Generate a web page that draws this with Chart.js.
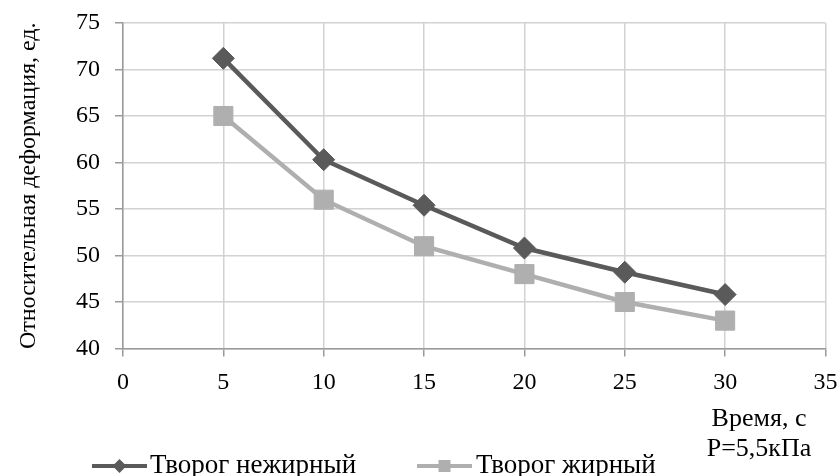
<!DOCTYPE html>
<html lang="ru">
<head>
  <meta charset="UTF-8" />
  <title>Относительная деформация творога</title>
  <script src="https://cdn.jsdelivr.net/npm/chart.js"></script>
  <style>
    body {
      margin: 0;
      background: #ffffff;
    }
    canvas {
      display: block;
    }
  </style>
</head>
<body>
  <canvas id="deformChart" width="840" height="476"></canvas>

  <script>
    // values
    const timeSec = [5, 10, 15, 20, 25, 30];
    const lowFat = [71.2, 60.3, 55.4, 50.8, 48.2, 45.8];
    const fullFat = [65.0, 56.0, 51.0, 48.0, 45.0, 43.0];
    const seriesNames = ['Творог нежирный', 'Творог жирный'];
    const yTitle = 'Относительная деформация, ед.';
    const xTitleLines = ['Время, с', 'Р=5,5кПа'];

    const darkGrey = '#5a5a5a';
    const lightGrey = '#afafaf';
    const serif = "'Liberation Serif', 'Times New Roman', serif";

    const toPoints = vals => vals.map((v, i) => ({ x: timeSec[i], y: v }));

    // x title + legend drawn under the plot (line with marker, like Excel)
    const extrasPlugin = {
      id: 'extras',
      afterDraw(chart) {
        const ctx = chart.ctx;
        ctx.save();
        ctx.fillStyle = '#000';
        ctx.font = '26px ' + serif;
        ctx.textAlign = 'center';
        ctx.textBaseline = 'middle';
        ctx.fillText(xTitleLines[0], 759, 419);
        ctx.fillText(xTitleLines[1], 759, 449);

        const ly = 466;
        const items = [
          { x0: 92, x1: 147, color: darkGrey, shape: 'diamond', tx: 150 },
          { x0: 417, x1: 472, color: lightGrey, shape: 'square', tx: 476 }
        ];
        ctx.font = '27px ' + serif;
        items.forEach((it, i) => {
          ctx.strokeStyle = it.color;
          ctx.fillStyle = it.color;
          ctx.lineWidth = 4;
          ctx.beginPath();
          ctx.moveTo(it.x0, ly);
          ctx.lineTo(it.x1, ly);
          ctx.stroke();
          const cx = (it.x0 + it.x1) / 2;
          ctx.beginPath();
          if (it.shape === 'diamond') {
            ctx.moveTo(cx, ly - 7);
            ctx.lineTo(cx + 7, ly);
            ctx.lineTo(cx, ly + 7);
            ctx.lineTo(cx - 7, ly);
            ctx.closePath();
          } else {
            ctx.rect(cx - 6, ly - 6, 12, 12);
          }
          ctx.fill();
          ctx.fillStyle = '#000';
          ctx.textAlign = 'left';
          ctx.textBaseline = 'alphabetic';
          ctx.fillText(seriesNames[i], it.tx, 473);
        });
        ctx.restore();
      }
    };

    new Chart(document.getElementById('deformChart'), {
      type: 'line',
      data: {
        datasets: [
          {
            label: seriesNames[0],
            data: toPoints(lowFat),
            borderColor: darkGrey,
            backgroundColor: darkGrey,
            borderWidth: 4.5,
            pointStyle: 'rectRot',
            pointRadius: 11,
            pointBorderWidth: 1,
            tension: 0
          },
          {
            label: seriesNames[1],
            data: toPoints(fullFat),
            borderColor: lightGrey,
            backgroundColor: lightGrey,
            borderWidth: 4.5,
            pointStyle: 'rect',
            pointRadius: 13.5,
            pointBorderWidth: 1,
            tension: 0
          }
        ]
      },
      options: {
        responsive: false,
        animation: false,
        layout: { padding: { left: 0, right: 14, top: 23, bottom: 0 } },
        plugins: {
          legend: { display: false },
          tooltip: { enabled: false }
        },
        scales: {
          x: {
            type: 'linear',
            min: 0,
            max: 35,
            ticks: { stepSize: 5, padding: 12, color: '#000', font: { family: serif, size: 24 } },
            grid: { color: '#d2d2d2', lineWidth: 1.5, tickLength: 8, tickColor: '#9a9a9a' },
            border: { color: '#9a9a9a', width: 1.5 },
            afterFit(scale) {
              scale.height = 127.5;
              scale.paddingLeft = 0;
              scale.paddingRight = 0;
            }
          },
          y: {
            min: 40,
            max: 75,
            ticks: { stepSize: 5, padding: 15, color: '#000', font: { family: serif, size: 24 } },
            grid: { color: '#d2d2d2', lineWidth: 1.5, tickLength: 8, tickColor: '#9a9a9a' },
            border: { color: '#9a9a9a', width: 1.5 },
            title: {
              display: true,
              text: yTitle,
              color: '#000',
              font: { family: serif, size: 24 },
              padding: { top: 14, bottom: 4 }
            },
            afterFit(scale) {
              scale.width = 123;
              scale.paddingTop = 0;
              scale.paddingBottom = 0;
            }
          }
        }
      },
      plugins: [extrasPlugin]
    });
  </script>
</body>
</html>
